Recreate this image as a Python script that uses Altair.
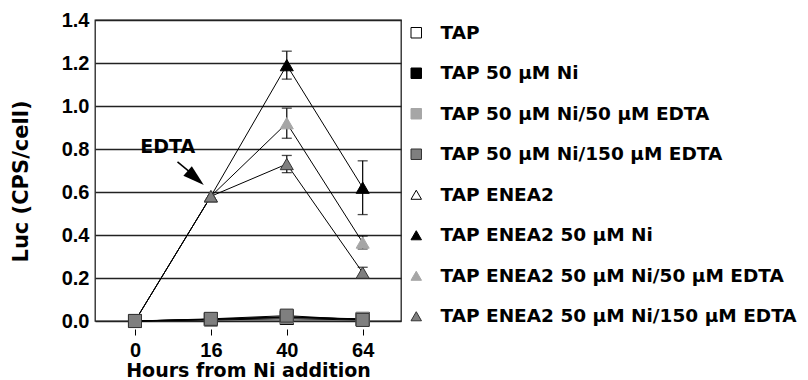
import altair as alt
import pandas as pd

hours_labels = ["0", "16", "40", "64"]
series = [
    "TAP",
    "TAP 50 µM Ni",
    "TAP 50 µM Ni/50 µM EDTA",
    "TAP 50 µM Ni/150 µM EDTA",
    "TAP ENEA2",
    "TAP ENEA2 50 µM Ni",
    "TAP ENEA2 50 µM Ni/50 µM EDTA",
    "TAP ENEA2 50 µM Ni/150 µM EDTA",
]
values = {
    "TAP": [0.0, 0.008, 0.015, 0.008],
    "TAP 50 µM Ni": [0.0, 0.008, 0.018, 0.010],
    "TAP 50 µM Ni/50 µM EDTA": [0.0, 0.008, 0.020, 0.008],
    "TAP 50 µM Ni/150 µM EDTA": [0.0, 0.010, 0.025, 0.005],
    "TAP ENEA2": [0.0, 0.005, 0.010, 0.005],
    "TAP ENEA2 50 µM Ni": [0.0, 0.58, 1.19, 0.62],
    "TAP ENEA2 50 µM Ni/50 µM EDTA": [0.0, 0.58, 0.92, 0.365],
    "TAP ENEA2 50 µM Ni/150 µM EDTA": [0.0, 0.58, 0.73, 0.225],
}
errors = {
    "TAP ENEA2 50 µM Ni": [0.0, 0.0, 0.065, 0.125],
    "TAP ENEA2 50 µM Ni/50 µM EDTA": [0.0, 0.0, 0.07, 0.03],
    "TAP ENEA2 50 µM Ni/150 µM EDTA": [0.0, 0.0, 0.04, 0.025],
}
fills = ["white", "black", "#a6a6a6", "#7f7f7f", "white", "black", "#a6a6a6", "#7f7f7f"]
strokes = ["black", "black", "#a6a6a6", "#333333", "black", "black", "#a6a6a6", "#333333"]
shapes = ["square"] * 4 + ["triangle-up"] * 4

# draw triangles first, squares on top
draw_order = series[4:] + series[:4]
rows = []
for s in draw_order:
    for i, v in enumerate(values[s]):
        e = errors.get(s, [0, 0, 0, 0])[i]
        rows.append({"series": s, "x": i, "y": v, "lo": v - e, "hi": v + e, "err": e})
df = pd.DataFrame(rows)
err_df = df[df["err"] > 0]

edta_text = pd.DataFrame({"x": [0.43], "y": [0.81], "t": ["EDTA"]})
arrow_line = pd.DataFrame({"x": [0.56], "y": [0.74], "x2": [0.80], "y2": [0.67]})
arrow_head = pd.DataFrame({"x": [0.80], "y": [0.665]})

TICKFONT = "Liberation Sans"
FONT = "DejaVu Sans"
label_expr = "[" + ",".join('"%s"' % h for h in hours_labels) + "][datum.value]"

xenc = alt.X("x:Q", scale=alt.Scale(domain=[-0.527, 3.505], nice=False, zero=False),
             axis=alt.Axis(values=[0, 1, 2, 3], labelExpr=label_expr, grid=False, domain=False,
                           ticks=True, tickSize=6, tickColor="black", tickWidth=1, offset=8,
                           labelPadding=5, labelFontSize=20, labelFontWeight="bold", labelFont=TICKFONT,
                           labelColor="black", title="Hours from Ni addition", titleFont=FONT,
                           titleFontSize=19, titleFontWeight="bold", titleColor="black",
                           titleY=47, titleBaseline="alphabetic"))
yenc = alt.Y("y:Q", scale=alt.Scale(domain=[0, 1.4], nice=False),
             axis=alt.Axis(values=[0, 0.2, 0.4, 0.6, 0.8, 1.0, 1.2, 1.4], format=".1f",
                           grid=True, gridColor="#222222", gridWidth=1.3, domain=False, ticks=False,
                           labelPadding=6, labelFontSize=20, labelFontWeight="bold", labelFont=TICKFONT,
                           labelColor="black", title="Luc (CPS/cell)", titleFont=FONT, titleFontSize=21,
                           titleFontWeight="bold", titleColor="black", titleX=-74, titleY=161,
                           titleAlign="center", titleBaseline="middle"))

base = alt.Chart(df)
lines = base.mark_line(color="black", strokeWidth=1).encode(x=xenc, y=yenc, detail="series:N")
ebars = alt.Chart(err_df).mark_rule(color="black", strokeWidth=1.2).encode(x="x:Q", y="lo:Q", y2="hi:Q")
cap_hi = alt.Chart(err_df).mark_tick(orient="horizontal", size=10, thickness=1.3, color="black").encode(x="x:Q", y="hi:Q")
cap_lo = alt.Chart(err_df).mark_tick(orient="horizontal", size=10, thickness=1.3, color="black").encode(x="x:Q", y="lo:Q")

legend = alt.Legend(title=None, orient="none", legendX=312, legendY=3.5, labelFont=FONT, labelFontSize=18.5,
                    labelFontWeight="bold", labelColor="black", symbolSize=110, symbolStrokeWidth=1,
                    rowPadding=21.5, labelOffset=15, labelLimit=420)
points = base.mark_point(filled=True, size=170, opacity=1, strokeWidth=1).encode(
    x="x:Q", y="y:Q",
    fill=alt.Fill("series:N", scale=alt.Scale(domain=series, range=fills), legend=legend),
    stroke=alt.Stroke("series:N", scale=alt.Scale(domain=series, range=strokes), legend=legend),
    shape=alt.Shape("series:N", scale=alt.Scale(domain=series, range=shapes), legend=legend),
)

txt = alt.Chart(edta_text).mark_text(font=FONT, fontSize=19, fontWeight="bold", color="black").encode(
    x="x:Q", y="y:Q", text="t:N")
arr = alt.Chart(arrow_line).mark_rule(color="black", strokeWidth=1.5).encode(
    x="x:Q", y="y:Q", x2="x2:Q", y2="y2:Q")
head = alt.Chart(arrow_head).mark_point(shape="M0,-1L0.6,1L-0.6,1Z", angle=131, size=460, filled=True,
                                        color="black", opacity=1).encode(x="x:Q", y="y:Q")

chart = alt.layer(lines, ebars, cap_hi, cap_lo, points, txt, arr, head).properties(
    width=306, height=301, autosize="none",
    padding={"left": 87, "top": 12, "right": 399, "bottom": 60},
).configure_view(stroke="#222222", strokeWidth=1.3)

chart.save("out.html", embed_options={"renderer": "svg", "actions": False})
